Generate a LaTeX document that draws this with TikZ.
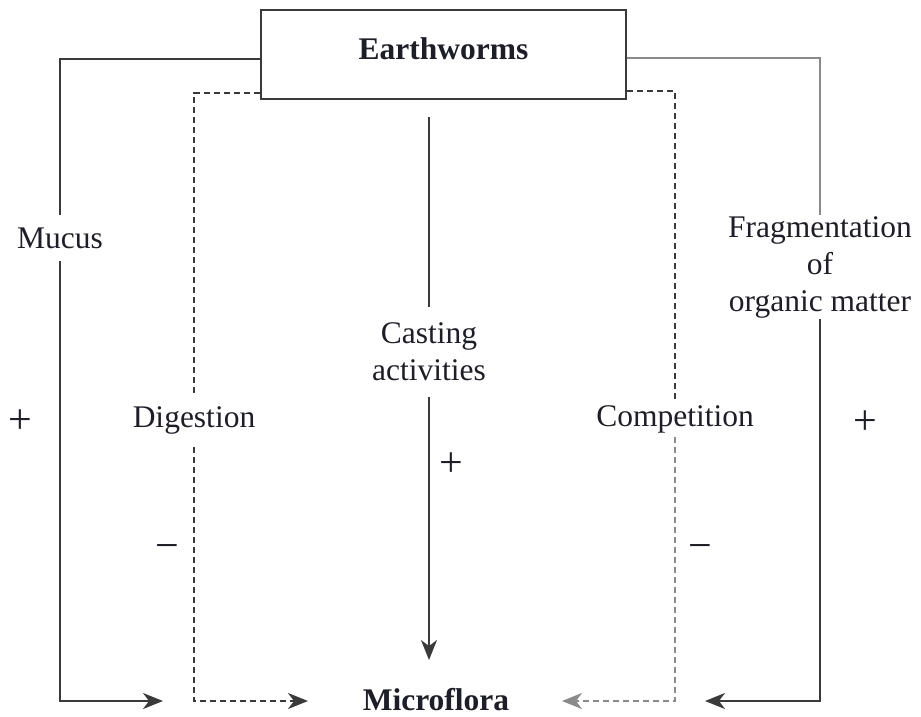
\documentclass[tikz,border=0pt]{standalone}
\usepackage{fontspec}
\setmainfont{Liberation Serif}
\usetikzlibrary{arrows.meta}
\definecolor{linec}{HTML}{3A3A3A}
\definecolor{lightc}{HTML}{8A8A8A}
\definecolor{txtc}{HTML}{1E1E28}
\tikzset{
  lab/.style={inner sep=0pt, align=center, text=txtc, font=\fontsize{31.5}{37}\selectfont},
  sign/.style={inner sep=0pt, text=txtc, font=\fontsize{42}{42}\selectfont},
  solidln/.style={draw=linec, line width=2.1pt},
  dashln/.style={draw=linec, line width=2.1pt, dash pattern=on 6pt off 4pt},
  tip/.style={-{Stealth[length=20pt,width=16pt,inset=6pt]}},
}
\begin{document}
\begin{tikzpicture}[x=1pt,y=-1pt]
\useasboundingbox (0,0) rectangle (921,716);
% main nodes
\node[draw=linec, line width=2.1pt, minimum width=365pt, minimum height=89pt, inner sep=0pt,
      text height=22pt, text depth=13pt, text=txtc, font=\fontsize{31.5}{37}\selectfont\bfseries]
      (ew) at (443.5,54.5) {Earthworms};
\node[inner sep=0pt, text=txtc, font=\fontsize{31.5}{37}\selectfont\bfseries] (micro) at (436,700) {Microflora};
% labels on connectors
\node[lab, minimum height=46pt] (mucus) at (60,238) {Mucus};
\node[lab, minimum height=53pt] (dig) at (194,420) {Digestion};
\node[lab, minimum height=89pt] (cast) at (429,352) {Casting\\activities};
\node[lab, minimum height=35pt] (comp) at (675,419) {Competition};
\node[lab, minimum height=103pt] (frag) at (820,267) {Fragmentation\\of\\organic matter};
% signs
\node[sign] (p1) at (20,422) {+};
\node[sign] (p2) at (451,465) {+};
\node[sign] (p3) at (865,423) {+};
\node[sign] (m1) at (167,552) {−};
\node[sign] (m2) at (700,552) {−};
% free ends
\coordinate (e1) at (163,701);
\coordinate (e2) at (308,701);
\coordinate (e3) at (562,701);
\coordinate (e4) at (705,701);
\coordinate (cs) at (429,117);
\coordinate (ce) at (429,660);
% Mucus (solid, left)
\draw[solidln] ([yshift=-4.5pt]ew.west) -| (mucus.north);
\draw[solidln, tip] (mucus.south) |- (e1);
% Digestion (dashed, left)
\draw[dashln] ([yshift=-38.5pt]ew.west) -| (dig.north);
\draw[dashln, tip] (dig.south) |- (e2);
% Casting (solid, centre)
\draw[solidln] (cs) -- (cast.north);
\draw[solidln, tip] (cast.south) -- (ce);
% Competition (dashed, right)
\draw[dashln] ([yshift=-36.5pt]ew.east) -| (comp.north);
\draw[dashln, draw=lightc, tip] (comp.south) |- (e3);
% Fragmentation (solid, right)
\draw[solidln, draw=lightc] ([yshift=-3.5pt]ew.east) -| (frag.north);
\draw[solidln, tip] (frag.south) |- (e4);
\end{tikzpicture}
\end{document}
